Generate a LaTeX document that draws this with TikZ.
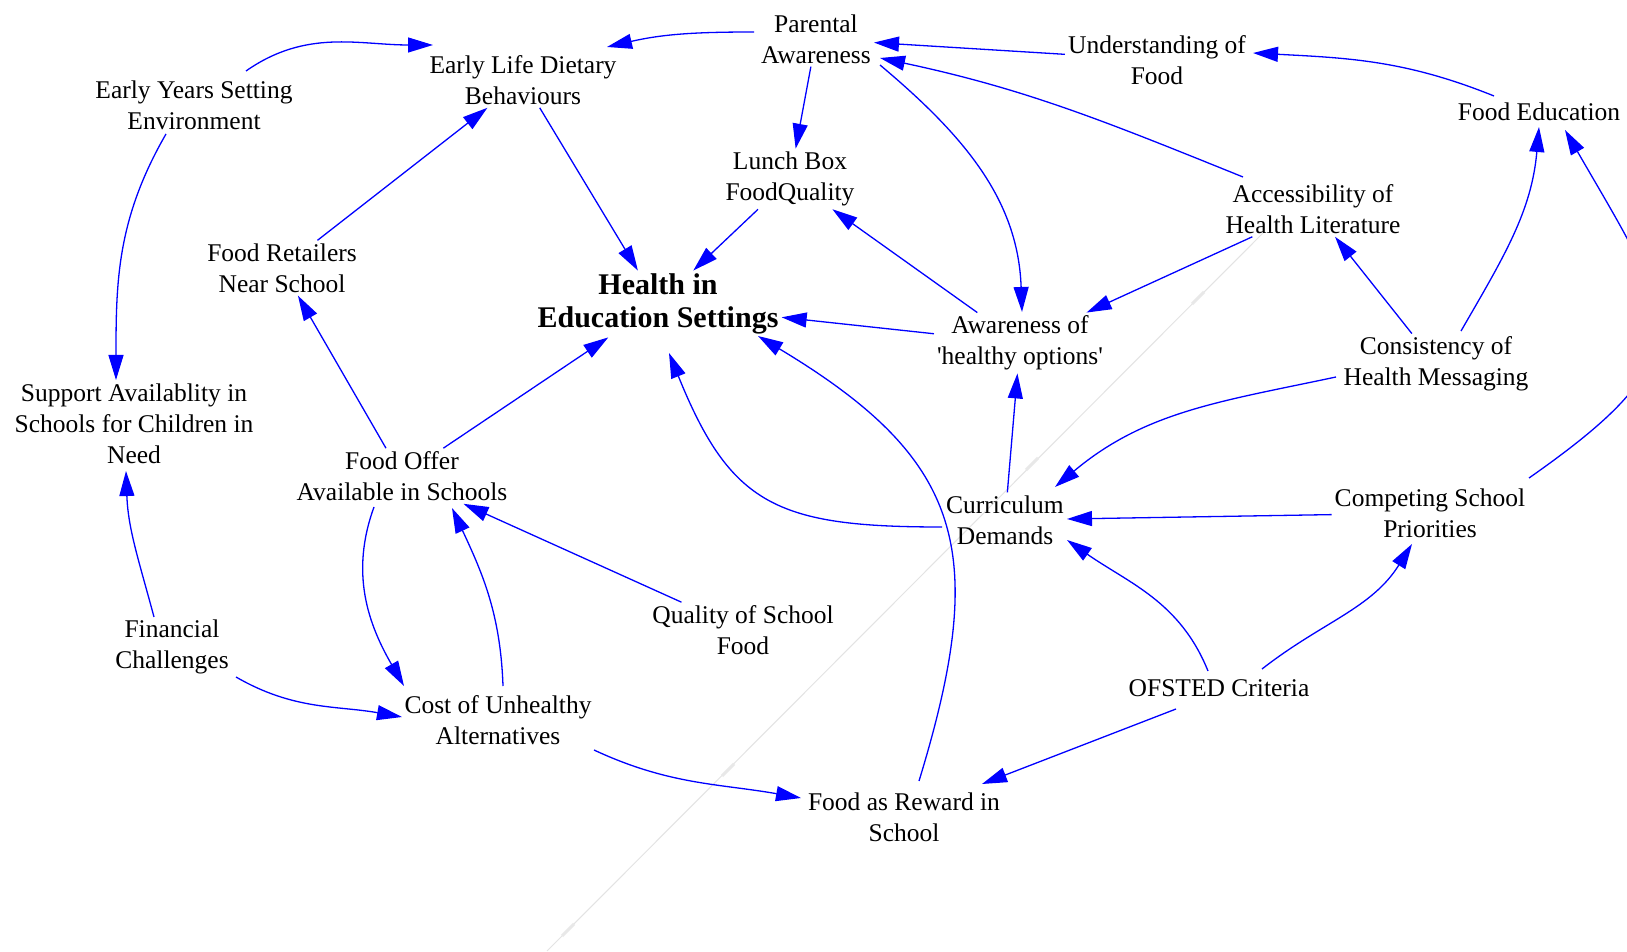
\documentclass[tikz,border=0pt]{standalone}
\usepackage{fontspec}
\setmainfont{Liberation Serif}
\usetikzlibrary{arrows.meta}
\definecolor{cblue}{RGB}{0,0,255}
\begin{document}
\begin{tikzpicture}[x=1pt,y=1pt,
  var/.style={align=center, inner sep=3pt, font=\fontsize{25.5}{31}\selectfont, text=black},
  core/.style={align=center, inner sep=3pt, font=\fontsize{30}{33}\selectfont\bfseries, text=black},
  arr/.style={draw=cblue, line width=1.3pt, -{Triangle[length=25pt,width=15pt]}},
  ghost/.style={draw=black!11, line width=1pt}
]
\useasboundingbox (0,0) rectangle (1627,951);
\clip (0,0) rectangle (1627,951);
\fill[white] (0,0) rectangle (1627,951);

% faint artefact line
\draw[ghost] (1264,719) -- (547,0);
\draw[ghost, line width=3pt, draw=black!9] (1204,659) -- (1192,647);
\draw[ghost, line width=3pt, draw=black!9] (1038,493) -- (1026,481);
\draw[ghost, line width=3pt, draw=black!9] (734,187) -- (722,175);
\draw[ghost, line width=3pt, draw=black!9] (574,27) -- (562,15);

\node[var] (par) at (816,912) {Parental\\Awareness};
\node[var] (eld) at (523,871) {Early Life Dietary\\Behaviours};
\node[var] (eys) at (194,846) {Early Years Setting\\Environment};
\node[var] (uof) at (1157,891) {Understanding of\\Food};
\node[var] (fed) at (1539,839) {Food Education};
\node[var] (lbq) at (790,772) {Lunch Box\\FoodQuality};
\node[var] (ahl) at (1313,742) {Accessibility of\\Health Literature};
\node[var] (frn) at (282,683) {Food Retailers\\Near School};
\node[core] (hes) at (658,647) {Health in\\Education Settings};
\node[var] (aho) at (1020,608) {Awareness of\\\textquotesingle healthy options\textquotesingle};
\node[var] (chm) at (1436,587) {Consistency of\\Health Messaging};
\node[var] (sac) at (134,527) {Support Availablity in\\Schools for Children in\\Need};
\node[var] (foa) at (402,475) {Food Offer\\Available in Schools};
\node[var] (cud) at (1005,431) {Curriculum\\Demands};
\node[var] (csp) at (1430,438) {Competing School\\Priorities};
\node[var] (qsf) at (743,321) {Quality of School\\Food};
\node[var] (fin) at (172,304) {Financial\\Challenges};
\node[var] (ofs) at (1219,263) {OFSTED Criteria};
\node[var] (cua) at (498,231) {Cost of Unhealthy\\Alternatives};
\node[var] (frs) at (904,134) {Food as Reward in\\School};

\draw[arr] ([shift={(-62,7)}]par.center) to[out=180,in=13] ([shift={(84,33)}]eld.center);
\draw[arr] ([shift={(52,34)}]eys.center) to[out=35,in=180] ([shift={(-90,35)}]eld.center);
\draw[arr] ([shift={(-28,-29)}]eys.center) to[out=240,in=90] ([shift={(-18,44)}]sac.center);
\draw[arr] (frn) -- (eld);
\draw[arr] (eld) -- (hes);
\draw[arr] (lbq) -- (hes);
\draw[arr] (par) -- (lbq);
\draw[arr] (uof) -- (par);
\draw[arr] ([shift={(-70,32)}]ahl.center) to[out=158,in=-12] ([shift={(64,-19)}]par.center);
\draw[arr] ([shift={(64,-26)}]par.center) to[out=-40,in=92] ([shift={(2,31)}]aho.center);
\draw[arr] ([shift={(-45,16)}]fed.center) to[out=158,in=-3] ([shift={(96,7)}]uof.center);
\draw[arr] (aho) -- (lbq);
\draw[arr] (ahl) -- (aho);
\draw[arr] (aho) -- (hes);
\draw[arr] (chm) -- (ahl);
\draw[arr] ([shift={(25,33)}]chm.center) to[out=60,in=-95] ([shift={(0,-15)}]fed.center);
\draw[arr] ([shift={(-100,-13)}]chm.center) to[out=192,in=40] ([shift={(50,33)}]cud.center);
\draw[arr] (cud) -- (aho);
\draw[arr] ([shift={(-63,-7)}]cud.center) to[out=180,in=-68,looseness=1.3] ([shift={(11,-49)}]hes.center);
\draw[arr] (foa) -- (frn);
\draw[arr] (foa) -- (hes);
\draw[arr] ([shift={(-28,-31)}]foa.center) to[out=250,in=120] ([shift={(-94,34)}]cua.center);
\draw[arr] ([shift={(5,34)}]cua.center) to[out=92,in=-65] ([shift={(50,-32)}]foa.center);
\draw[arr] (qsf) -- (foa);
\draw[arr] ([shift={(-18,30)}]fin.center) to[out=105,in=-88] ([shift={(-8,-47)}]sac.center);
\draw[arr] ([shift={(64,-30)}]fin.center) to[out=-30,in=170] ([shift={(-96,3)}]cua.center);
\draw[arr] ([shift={(96,-30)}]cua.center) to[out=-25,in=170] ([shift={(-103,19)}]frs.center);
\draw[arr] ([shift={(15,36)}]frs.center) to[out=73,in=-31,looseness=1.3] ([shift={(100,-32)}]hes.center);
\draw[arr] ([shift={(-43,-21)}]ofs.center) -- ([shift={(78,33)}]frs.center);
\draw[arr] ([shift={(-11,17)}]ofs.center) to[out=112,in=-35] ([shift={(62,-20)}]cud.center);
\draw[arr] ([shift={(43,19)}]ofs.center) to[out=38,in=238] ([shift={(-18,-31)}]csp.center);
\draw[arr] (csp) -- (cud);
\draw[arr] ([shift={(99,35)}]csp.center) to[out=35,in=-60,looseness=1.6] ([shift={(26,-18)}]fed.center);
\end{tikzpicture}
\end{document}
